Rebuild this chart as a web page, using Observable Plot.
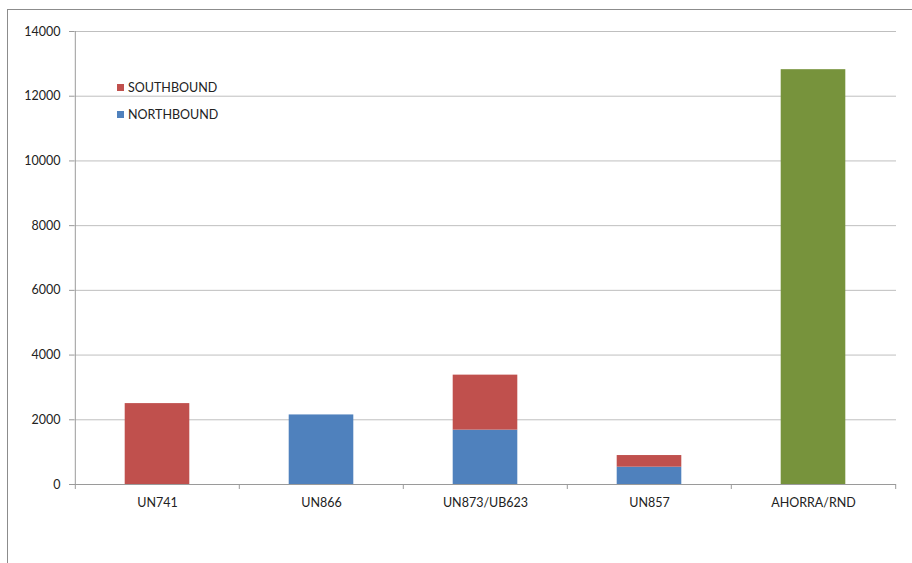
<!DOCTYPE html>
<html>
<head>
<meta charset="utf-8">
<script src="https://cdn.jsdelivr.net/npm/d3@7"></script>
<script src="https://cdn.jsdelivr.net/npm/@observablehq/plot@0.6"></script>
<style>
  html, body { margin: 0; padding: 0; background: #fff; }
  #wrap { position: relative; width: 912px; height: 563px; overflow: hidden; font-family: Lato, "Open Sans", sans-serif; }
  #border { position: absolute; left: 7px; top: 9px; width: 920px; height: 580px; border-top: 1px solid #8c8c8c; border-left: 1px solid #8c8c8c; }
  #chart { position: absolute; left: 0; top: 0; }
  #legend { position: absolute; left: 117px; top: 80px; font-size: 12.5px; color: #222; }
  .item { display: flex; align-items: center; height: 14px; margin-bottom: 13px; }
  .sw { width: 7px; height: 7px; margin-right: 4px; }
</style>
</head>
<body>
<div id="wrap">
  <div id="border"></div>
  <div id="chart"></div>
  <div id="legend"></div>
</div>
<script>
const categories = ["UN741", "UN866", "UN873/UB623", "UN857", "AHORRA/RND"];
const northbound = [0, 2150, 1680, 535, 0];
const southbound = [2500, 0, 1700, 360, 0];
const ahorra = [0, 0, 0, 0, 12820];
const yTicks = [0, 2000, 4000, 6000, 8000, 10000, 12000, 14000];
const seriesNames = ["NORTHBOUND", "SOUTHBOUND", "AHORRA"];
const seriesColors = ["#4f81bd", "#c0504d", "#77933c"];
const legendOrder = ["SOUTHBOUND", "NORTHBOUND"];

const data = [];
categories.forEach((c, i) => {
  [northbound, southbound, ahorra].forEach((arr, k) => {
    if (arr[i] > 0) data.push({cat: c, series: seriesNames[k], value: arr[i]});
  });
});

const W = 912, H = 563, ML = 74, MR = 16, MT = 31, MB = 79;
const bw = (W - ML - MR) / categories.length;
const barInset = (bw - 65) / 2;

const chart = Plot.plot({
  width: W, height: H,
  marginLeft: ML, marginRight: MR, marginTop: MT, marginBottom: MB,
  style: {fontFamily: "Lato, 'Open Sans', sans-serif", fontSize: "12.5px", color: "#222", background: "transparent"},
  x: {domain: categories, padding: 0, label: null},
  y: {domain: [0, 14000], label: null},
  color: {domain: seriesNames, range: seriesColors},
  marks: [
    Plot.gridY(yTicks, {stroke: "#bfbfbf", strokeOpacity: 1}),
    Plot.barY(data, Plot.stackY({x: "cat", y: "value", fill: "series", order: seriesNames, insetLeft: barInset, insetRight: barInset})),
    Plot.ruleY([0], {stroke: "#9a9a9a"}),
    Plot.ruleX([categories[0]], {dx: -bw / 2, y1: 0, y2: 14000, stroke: "#9a9a9a"}),
    Plot.ruleX(categories, {dx: -bw / 2, y1: 0, y2: 0, insetBottom: -5, stroke: "#9a9a9a"}),
    Plot.ruleX([categories[categories.length - 1]], {dx: bw / 2, y1: 0, y2: 0, insetBottom: -5, stroke: "#9a9a9a"}),
    Plot.axisY({ticks: yTicks, tickSize: 5, tickPadding: 9, stroke: "#9a9a9a", tickFormat: d => String(d), fill: "#222"}),
    Plot.axisX({tickSize: 0, tickPadding: 14, fill: "#222"})
  ]
});
document.getElementById("chart").appendChild(chart);

const legend = document.getElementById("legend");
legendOrder.forEach(name => {
  const k = seriesNames.indexOf(name);
  const it = document.createElement("div");
  it.className = "item";
  it.innerHTML = `<span class="sw" style="background:${seriesColors[k]}"></span><span>${name}</span>`;
  legend.appendChild(it);
});
</script>
</body>
</html>
